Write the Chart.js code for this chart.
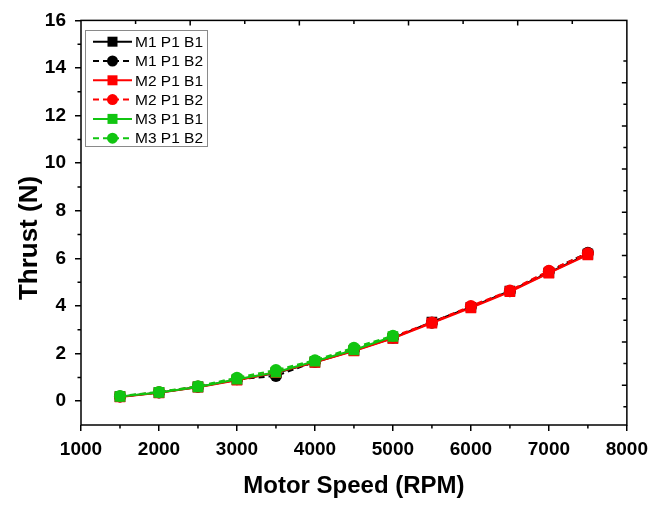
<!DOCTYPE html>
<html lang="en">
<head>
<meta charset="UTF-8">
<title>Thrust vs motor speed</title>
<script src="https://cdn.jsdelivr.net/npm/chart.js@4.4.1/dist/chart.umd.min.js"></script>
<style>
  html, body { margin: 0; padding: 0; background: #fff; }
</style>
</head>
<body>
<canvas id="canvas" width="655" height="505"></canvas>
<script>
// data
const rpm = [1500, 2000, 2500, 3000, 3500, 4000, 4500, 5000, 5500, 6000, 6500, 7000, 7500];
const rpmM3 = [1500, 2000, 2500, 3000, 3500, 4000, 4500, 5000];

const m1b1 = [0.19, 0.36, 0.60, 0.90, 1.18, 1.64, 2.13, 2.65, 3.33, 3.95, 4.63, 5.40, 6.18];
const m1b2 = [0.20, 0.37, 0.61, 0.92, 1.06, 1.66, 2.16, 2.68, 3.30, 3.97, 4.62, 5.46, 6.24];
const m2b1 = [0.18, 0.35, 0.59, 0.88, 1.20, 1.63, 2.11, 2.64, 3.28, 3.92, 4.60, 5.38, 6.15];
const m2b2 = [0.20, 0.38, 0.62, 0.93, 1.24, 1.68, 2.20, 2.72, 3.31, 4.00, 4.65, 5.48, 6.22];
const m3b1 = [0.20, 0.37, 0.60, 0.92, 1.22, 1.68, 2.15, 2.72];
const m3b2 = [0.22, 0.39, 0.63, 0.99, 1.31, 1.72, 2.25, 2.75];

const seriesNames = ['M1 P1 B1', 'M1 P1 B2', 'M2 P1 B1', 'M2 P1 B2', 'M3 P1 B1', 'M3 P1 B2'];
const xTitle = 'Motor Speed (RPM)';
const yTitle = 'Thrust (N)';

const black = '#000000';
const red = '#ff0000';
const green = '#11c511';

function pts(xs, ys) {
    return ys.map(function (v, i) { return { x: xs[i], y: v }; });
}

function series(i, xs, ys, color, dashed) {
    return {
        label: seriesNames[i],
        data: pts(xs, ys),
        borderColor: color,
        backgroundColor: color,
        borderWidth: 2,
        borderDash: dashed ? [6, 4] : [],
        pointStyle: dashed ? 'circle' : 'rect',
        pointRadius: dashed ? 6 : 7.5,
        pointHoverRadius: dashed ? 6 : 7.5,
        pointBorderWidth: 0,
        tension: 0,
        order: 6 - i
    };
}

const datasets = [
    series(0, rpm, m1b1, black, false),
    series(1, rpm, m1b2, black, true),
    series(2, rpm, m2b1, red, false),
    series(3, rpm, m2b2, red, true),
    series(4, rpmM3, m3b1, green, false),
    series(5, rpmM3, m3b2, green, true)
];

// frame, minor ticks, axis titles and the boxed legend
const framePlugin = {
    id: 'frame',
    afterDraw: function (chart) {
        const ctx = chart.ctx;
        const ca = chart.chartArea;
        const xs = chart.scales.x;
        const ys = chart.scales.y;
        ctx.save();
        ctx.strokeStyle = '#000';
        ctx.lineWidth = 1.5;
        ctx.strokeRect(ca.left, ca.top, ca.right - ca.left, ca.bottom - ca.top);

        ctx.beginPath();
        for (let v = 1500; v < 8000; v += 1000) {
            const px = xs.getPixelForValue(v);
            ctx.moveTo(px, ca.bottom);
            ctx.lineTo(px, ca.bottom + 3.5);
        }
        for (let v = 1; v < 16; v += 2) {
            const py = ys.getPixelForValue(v);
            ctx.moveTo(ca.left, py);
            ctx.lineTo(ca.left - 3.5, py);
        }
        // inward ticks on the top and right edges
        const w = ca.right - ca.left, h = ca.bottom - ca.top;
        for (let k = 1; k < 10; k++) {
            const px = ca.left + w * k / 10;
            ctx.moveTo(px, ca.top);
            ctx.lineTo(px, ca.top + (k % 2 === 0 ? 5 : 3.5));
        }
        for (let k = 0; k < 17; k++) {
            const py = ca.top + h * (0.1005 + k * 0.0534);
            ctx.moveTo(ca.right, py);
            ctx.lineTo(ca.right - (k % 2 === 1 ? 5 : 3.5), py);
        }
        ctx.stroke();

        // axis titles
        ctx.fillStyle = '#000';
        ctx.font = 'bold 24px "Liberation Sans", Arial, sans-serif';
        ctx.textAlign = 'center';
        ctx.textBaseline = 'middle';
        ctx.fillText(xTitle, (ca.left + ca.right) / 2, 486);
        ctx.save();
        ctx.translate(30, 238);
        ctx.rotate(-Math.PI / 2);
        ctx.font = 'bold 26px "Liberation Sans", Arial, sans-serif';
        ctx.fillText(yTitle, 0, 0);
        ctx.restore();

        // legend
        ctx.strokeStyle = '#8a8a8a';
        ctx.lineWidth = 1;
        ctx.strokeRect(85.5, 30.5, 122, 116);
        ctx.font = '15.5px "Liberation Sans", Arial, sans-serif';
        ctx.textAlign = 'left';
        datasets.forEach(function (ds, i) {
            const ry = 41.7 + i * 19.3;
            ctx.strokeStyle = ds.borderColor;
            ctx.fillStyle = ds.borderColor;
            ctx.lineWidth = 2;
            ctx.setLineDash(ds.borderDash);
            ctx.beginPath();
            ctx.moveTo(93, ry);
            ctx.lineTo(132, ry);
            ctx.stroke();
            ctx.setLineDash([]);
            ctx.beginPath();
            if (ds.pointStyle === 'rect') {
                ctx.rect(112.5 - 5, ry - 5, 10, 10);
            } else {
                ctx.arc(112.5, ry, 5.5, 0, Math.PI * 2);
            }
            ctx.fill();
            ctx.fillStyle = '#000';
            ctx.fillText(ds.label, 135, ry + 1);
        });
        ctx.restore();
    }
};

const tickFont = { family: '"Liberation Sans", Arial, sans-serif', size: 19, weight: 'bold' };

new Chart(document.getElementById('canvas').getContext('2d'), {
    type: 'line',
    data: { datasets: datasets },
    options: {
        responsive: false,
        animation: false,
        layout: { padding: { top: 15, right: 26, left: 0, bottom: 0 } },
        plugins: { legend: { display: false }, tooltip: { enabled: false } },
        scales: {
            x: {
                type: 'linear',
                min: 1000,
                max: 8000,
                ticks: {
                    stepSize: 1000, color: '#000', font: tickFont, padding: 7, maxRotation: 0,
                    callback: function (v) { return String(v); }
                },
                grid: { drawOnChartArea: false, tickLength: 6, color: '#000', lineWidth: 1.5 },
                border: { display: false },
                afterFit: function (s) { s.height = 80; }
            },
            y: {
                type: 'linear',
                min: -1,
                max: 16,
                ticks: {
                    stepSize: 2, includeBounds: false, color: '#000', font: tickFont, padding: 9,
                    callback: function (v) { return String(v); }
                },
                grid: { drawOnChartArea: false, tickLength: 6, color: '#000', lineWidth: 1.5 },
                border: { display: false },
                afterFit: function (s) { s.width = 81; }
            }
        }
    },
    plugins: [framePlugin]
});
</script>
</body>
</html>
